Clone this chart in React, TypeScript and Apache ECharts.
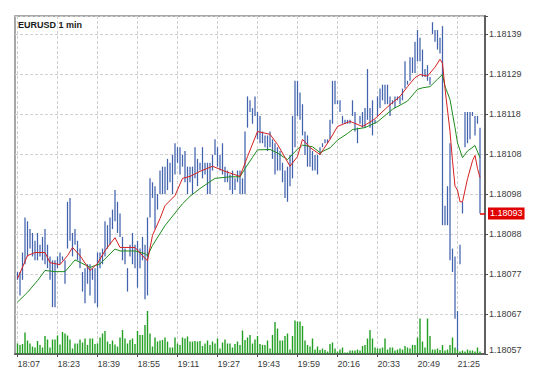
import React, { useEffect, useRef } from 'react';
import * as echarts from 'echarts';

const symbolTitle = 'EURUSD 1 min';
const timeLabels = ['18:07', '18:23', '18:39', '18:55', '19:11', '19:27', '19:43', '19:59', '20:16', '20:33', '20:49', '21:25'];
const priceTickLabels = ['1.18057', '1.18067', '1.18077', '1.18088', '1.18098', '1.18108', '1.18118', '1.18129', '1.18139'];
const priceMin = 1.18057;
const priceStep = 0.0001025;
const priceMax = 1.181436;
const currentPrice = 1.18093;
const currentPriceLabel = '1.18093';

const highs = [
  1.18078, 1.18078, 1.18083, 1.18092, 1.18091, 1.18089, 1.18088, 1.18086, 1.18088, 1.18085,
  1.18087, 1.18089, 1.18085, 1.18082, 1.18081, 1.18081, 1.18082, 1.18083, 1.18082, 1.18081,
  1.18096, 1.18097, 1.18088, 1.18089, 1.18086, 1.18084, 1.18078, 1.18079, 1.18080, 1.18080,
  1.18079, 1.18079, 1.18083, 1.18083, 1.18084, 1.18091, 1.18090, 1.18092, 1.18094, 1.18099,
  1.18096, 1.18093, 1.18087, 1.18084, 1.18079, 1.18085, 1.18088, 1.18085, 1.18086, 1.18084,
  1.18087, 1.18085, 1.18092, 1.18102, 1.18101, 1.18100, 1.18098, 1.18104, 1.18105, 1.18105,
  1.18107, 1.18106, 1.18108, 1.18111, 1.18110, 1.18110, 1.18108, 1.18109, 1.18105, 1.18105,
  1.18105, 1.18110, 1.18107, 1.18106, 1.18110, 1.18106, 1.18106, 1.18106, 1.18108, 1.18112,
  1.18110, 1.18108, 1.18111, 1.18105, 1.18104, 1.18103, 1.18104, 1.18102, 1.18104, 1.18104,
  1.18102, 1.18114, 1.18123, 1.18122, 1.18120, 1.18123, 1.18119, 1.18118, 1.18114, 1.18113,
  1.18113, 1.18114, 1.18112, 1.18111, 1.18110, 1.18109, 1.18106, 1.18104, 1.18105, 1.18108,
  1.18118, 1.18127, 1.18127, 1.18124, 1.18121, 1.18114, 1.18113, 1.18110, 1.18109, 1.18108,
  1.18108, 1.18110, 1.18111, 1.18112, 1.18112, 1.18117, 1.18127, 1.18127, 1.18122, 1.18122,
  1.18118, 1.18117, 1.18117, 1.18117, 1.18122, 1.18119, 1.18115, 1.18118, 1.18119, 1.18120,
  1.18130, 1.18120, 1.18122, 1.18117, 1.18123, 1.18125, 1.18126, 1.18126, 1.18126, 1.18123,
  1.18122, 1.18123, 1.18123, 1.18123, 1.18125, 1.18132, 1.18127, 1.18133, 1.18133, 1.18137,
  1.18140, 1.18138, 1.18135, 1.18130, 1.18131, 1.18128, 1.18142, 1.18140, 1.18140, 1.18138,
  1.18141, 1.18095, 1.18100, 1.18111, 1.18084, 1.18082, 1.18068, 1.18085, 1.18096, 1.18119,
  1.18119, 1.18119, 1.18119, 1.18118, 1.18118, 1.18115,
];

const lows = [
  1.18076, 1.18072, 1.18076, 1.18080, 1.18082, 1.18084, 1.18082, 1.18081, 1.18081, 1.18082,
  1.18081, 1.18080, 1.18079, 1.18076, 1.18069, 1.18069, 1.18079, 1.18080, 1.18081, 1.18075,
  1.18084, 1.18086, 1.18082, 1.18085, 1.18081, 1.18079, 1.18073, 1.18070, 1.18075, 1.18072,
  1.18076, 1.18070, 1.18069, 1.18079, 1.18080, 1.18082, 1.18084, 1.18085, 1.18089, 1.18091,
  1.18088, 1.18087, 1.18081, 1.18080, 1.18073, 1.18082, 1.18080, 1.18079, 1.18074, 1.18079,
  1.18081, 1.18071, 1.18072, 1.18092, 1.18097, 1.18089, 1.18094, 1.18098, 1.18098, 1.18098,
  1.18099, 1.18101, 1.18098, 1.18103, 1.18106, 1.18103, 1.18105, 1.18101, 1.18098, 1.18101,
  1.18098, 1.18102, 1.18100, 1.18104, 1.18102, 1.18103, 1.18098, 1.18098, 1.18104, 1.18108,
  1.18105, 1.18104, 1.18103, 1.18101, 1.18101, 1.18099, 1.18098, 1.18099, 1.18101, 1.18098,
  1.18098, 1.18098, 1.18115, 1.18119, 1.18116, 1.18118, 1.18112, 1.18111, 1.18111, 1.18110,
  1.18109, 1.18110, 1.18107, 1.18103, 1.18104, 1.18104, 1.18101, 1.18097, 1.18096, 1.18100,
  1.18102, 1.18110, 1.18118, 1.18117, 1.18113, 1.18108, 1.18105, 1.18105, 1.18104, 1.18104,
  1.18103, 1.18108, 1.18110, 1.18111, 1.18111, 1.18112, 1.18116, 1.18121, 1.18121, 1.18119,
  1.18116, 1.18116, 1.18116, 1.18116, 1.18118, 1.18114, 1.18111, 1.18116, 1.18115, 1.18115,
  1.18117, 1.18115, 1.18113, 1.18116, 1.18118, 1.18120, 1.18122, 1.18121, 1.18121, 1.18118,
  1.18121, 1.18120, 1.18122, 1.18121, 1.18122, 1.18125, 1.18126, 1.18127, 1.18129, 1.18129,
  1.18132, 1.18132, 1.18128, 1.18128, 1.18127, 1.18126, 1.18139, 1.18137, 1.18135, 1.18134,
  1.18090, 1.18090, 1.18090, 1.18081, 1.18078, 1.18066, 1.18058, 1.18080, 1.18093, 1.18110,
  1.18111, 1.18112, 1.18118, 1.18113, 1.18116, 1.18093,
];

const volumes = [
  21, 18, 20, 43, 27, 21, 15, 13, 26, 18,
  13, 36, 29, 13, 29, 29, 37, 19, 44, 41,
  37, 29, 11, 21, 21, 29, 23, 31, 18, 31,
  31, 20, 21, 33, 41, 46, 25, 20, 27, 19,
  15, 33, 48, 31, 21, 28, 31, 20, 46, 38,
  38, 58, 86, 41, 15, 33, 25, 27, 28, 33,
  25, 13, 13, 33, 21, 18, 33, 31, 35,
  25, 25, 26, 25, 26, 16, 21, 27, 18, 25,
  21, 31, 11, 23, 29, 21, 21, 13, 20, 25,
  18, 47, 28, 33, 38, 21, 29, 36, 20, 18,
  18, 27, 11, 38, 64, 51, 27, 27, 36, 41,
  9, 36, 67, 65, 65, 56, 27, 18, 15, 31,
  9, 15, 8, 11, 8, 5, 20, 23, 11, 5,
  9, 13, 3, 3, 7, 7, 7, 9, 7, 16,
  18, 31, 48, 31, 13, 11,
  11, 13, 31, 9, 13, 13, 7, 9, 11, 9,
  16, 13, 11, 18, 18, 33, 71, 25, 13, 71,
  36, 9, 9, 11, 8, 18, 7, 9, 18, 33,
  13, 9, 5, 7, 5, 9, 7, 7, 5, 13,
  5,
];
const volumeAxisMax = 676;

const maFast: [number, number][] = [
  [0, 1.180763], [4, 1.180822], [7, 1.18083], [11, 1.18083], [13, 1.180804], [17, 1.180799],
  [20, 1.180822], [22, 1.180843], [25, 1.180822], [29, 1.180784], [32, 1.180802], [35, 1.180835],
  [39, 1.180868], [41, 1.180843], [47, 1.180843], [51, 1.180815], [52, 1.180809], [54, 1.180874],
  [57, 1.180917], [59, 1.18095], [63, 1.180976], [66, 1.18102], [69, 1.181025], [73, 1.181038],
  [78, 1.181051], [83, 1.181038], [89, 1.181025], [92, 1.181076], [96, 1.18114], [101, 1.181133],
  [104, 1.181107], [109, 1.181051], [112, 1.181076], [114, 1.18112], [117, 1.181099], [121, 1.181081],
  [125, 1.18112], [128, 1.181153], [133, 1.181166], [138, 1.181153], [141, 1.181164], [143, 1.181173],
  [148, 1.181203], [153, 1.18123], [156, 1.181255], [159, 1.181278], [161, 1.181286], [164, 1.181282],
  [167, 1.181305], [169, 1.181325], [170, 1.181315], [171, 1.18125], [173, 1.18114], [174, 1.181065],
  [175, 1.181], [176, 1.18099], [177, 1.18096], [178, 1.18096], [180, 1.181019], [182, 1.181065],
  [183, 1.181079], [184, 1.181045], [185, 1.181022],
];

const maSlow: [number, number][] = [
  [0, 1.180703], [4, 1.180728], [8, 1.180758], [11, 1.180784], [15, 1.180781], [19, 1.180781],
  [23, 1.180811], [25, 1.180805], [29, 1.180792], [33, 1.180801], [39, 1.180839], [41, 1.180834],
  [47, 1.180834], [51, 1.180827], [52, 1.180822], [54, 1.180848], [59, 1.180899], [66, 1.180955],
  [69, 1.180974], [73, 1.180994], [79, 1.18102], [85, 1.181024], [89, 1.181024], [91, 1.181045],
  [94, 1.181074], [96, 1.181093], [101, 1.181094], [104, 1.181085], [108, 1.181068], [112, 1.181095],
  [114, 1.181105], [118, 1.181101], [121, 1.181086], [125, 1.181098], [128, 1.181118], [132, 1.181135],
  [134, 1.181145], [139, 1.18115], [144, 1.181165], [150, 1.181197], [156, 1.181218], [160, 1.181248],
  [162, 1.181252], [165, 1.181255], [168, 1.181274], [170, 1.181286], [171, 1.181256], [173, 1.181222],
  [175, 1.18115], [176, 1.181111], [178, 1.181073], [180, 1.18109], [183, 1.181104], [185, 1.181073],
];

export default function App() {
  const ref = useRef<HTMLDivElement>(null);

  useEffect(() => {
    if (!ref.current) return;
    const chart = echarts.init(ref.current, undefined, { renderer: 'svg' });
    const n = highs.length;
    const catCount = n + 3;
    const categories = Array.from({ length: catCount }, (_, k) => String(k));
    const isLabelIdx = (idx: number) =>
      idx >= 1 && (idx - 1) % 16 === 0 && (idx - 1) / 16 < timeLabels.length;
    const font = '"Liberation Sans", Arial, sans-serif';
    const ohlc = highs.map((h, i) => [i + 1, lows[i], h]);
    const vol = volumes.map((v, i) => [i + 1, v]);
    const fast = maFast.map(([i, v]) => [i + 1, v]);
    const slow = maSlow.map(([i, v]) => [i + 1, v]);

    chart.setOption({
      animation: false,
      backgroundColor: '#ffffff',
      textStyle: { fontFamily: font },
      grid: {
        left: 15, right: 64, top: 16, bottom: 28,
        show: true, borderColor: '#8a8a8a', borderWidth: 1.5,
        containLabel: false, outerBoundsMode: 'none',
      },
      graphic: [
        {
          type: 'text', x: 18, y: 24.5, z: 100,
          style: { text: symbolTitle, fill: '#1a1a1a', fontSize: 9, fontWeight: 'bold', fontFamily: font, verticalAlign: 'middle' },
        },
      ],
      xAxis: {
        type: 'category', data: categories, boundaryGap: false,
        axisLine: { show: true, lineStyle: { color: '#606060', width: 2 } },
        axisTick: { show: true, interval: (idx: number) => isLabelIdx(idx), length: 3, lineStyle: { color: '#505050' } },
        axisLabel: {
          interval: (idx: number) => isLabelIdx(idx),
          formatter: (_v: string, idx: number) => timeLabels[(idx - 1) / 16] ?? '',
          align: 'left', margin: 5, color: '#3c3c3c', fontSize: 9, fontFamily: font,
        },
        splitLine: { show: true, interval: (idx: number) => isLabelIdx(idx), lineStyle: { color: '#d0d0d0', type: [3, 2], width: 1 } },
      },
      yAxis: [
        {
          type: 'value', position: 'right', min: priceMin, max: priceMax, interval: priceStep,
          axisLine: { show: true, lineStyle: { color: '#606060', width: 2 } },
          axisTick: { show: true, length: 3, lineStyle: { color: '#505050' } },
          axisLabel: {
            margin: 4, color: '#3c3c3c', fontSize: 9, fontFamily: font,
            formatter: (_v: number, idx: number) => {
              const t = priceTickLabels[idx];
              if (!t) return '';
              return idx === 0 ? `{low|${t}}` : t;
            },
            rich: { low: { padding: [0, 0, 8, 0], fontSize: 9, color: '#3c3c3c', fontFamily: font } },
          },
          splitLine: { show: true, lineStyle: { color: '#d0d0d0', type: [3, 2], width: 1 } },
        },
        { type: 'value', min: 0, max: volumeAxisMax, show: false, splitLine: { show: false } },
      ],
      series: [
        {
          type: 'bar', name: 'Volume', yAxisIndex: 1, data: vol, barWidth: 1.4, z: 1,
          itemStyle: { color: '#22a022' }, silent: true,
        },
        {
          type: 'custom', name: 'Bars', z: 2, data: ohlc,
          encode: { x: 0, y: [1, 2] },
          renderItem: (_params: any, api: any) => {
            const x = api.value(0);
            const p1 = api.coord([x, api.value(1)]);
            const p2 = api.coord([x, api.value(2)]);
            let y1 = p1[1];
            let y2 = p2[1];
            if (Math.abs(y1 - y2) < 1.5) { y1 += 0.75; y2 -= 0.75; }
            return {
              type: 'line',
              shape: { x1: p1[0], y1, x2: p2[0], y2 },
              style: { stroke: '#4262ad', lineWidth: 1.25 },
            };
          },
          markLine: {
            silent: true, symbol: ['none', 'none'],
            lineStyle: { color: '#e00000', width: 1.5, type: 'solid' },
            label: {
              show: true, position: 'end', formatter: currentPriceLabel, distance: 3,
              backgroundColor: '#e00000', color: '#ffffff', fontSize: 9, fontFamily: font,
              padding: [2, 2, 1, 2],
            },
            data: [[{ coord: [n, currentPrice] }, { coord: [catCount - 1, currentPrice] }]],
          },
        },
        {
          type: 'line', name: 'MA slow', data: slow, z: 3, showSymbol: false, symbol: 'none',
          lineStyle: { color: '#1e8c1e', width: 1 }, silent: true,
        },
        {
          type: 'line', name: 'MA fast', data: fast, z: 4, showSymbol: false, symbol: 'none',
          lineStyle: { color: '#d42020', width: 1 }, silent: true,
        },
      ],
    });
    return () => chart.dispose();
  }, []);

  return (
    <div
      ref={ref}
      style={{ position: 'fixed', left: 0, top: 0, width: 549, height: 382, background: '#ffffff' }}
    />
  );
}
